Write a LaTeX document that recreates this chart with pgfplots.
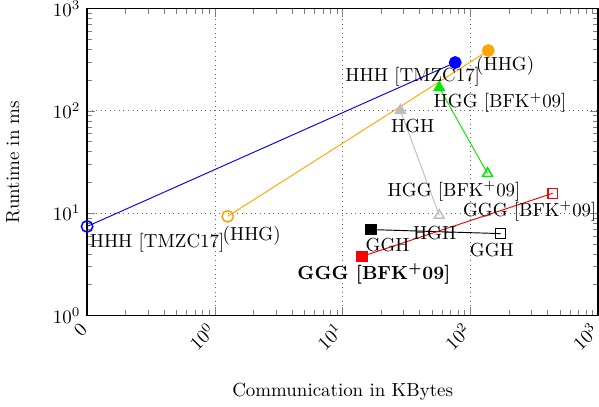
\documentclass[border=0pt]{standalone}
\usepackage{pgfplots}
\pgfplotsset{compat=1.18}
\definecolor{myorange}{RGB}{255,165,0}
\definecolor{mygreen}{RGB}{0,235,0}
\definecolor{mygray}{RGB}{190,190,190}
\begin{document}
\begin{tikzpicture}
\begin{axis}[
  scale only axis,
  width=270pt, height=162pt,
  xmode=log, ymode=log,
  xmin=0.1, xmax=1000, ymin=1, ymax=1000,
  xtick={0.1,1,10,100,1000},
  xticklabels={$0$,$10^0$,$10^1$,$10^2$,$10^3$},
  minor xtick={0.2,0.3,0.4,0.5,0.6,0.7,0.8,0.9,2,3,4,5,6,7,8,9,20,30,40,50,60,70,80,90,200,300,400,500,600,700,800,900},
  ytick={1,10,100,1000},
  yticklabels={$10^0$,$10^1$,$10^2$,$10^3$},
  minor ytick={2,3,4,5,6,7,8,9,20,30,40,50,60,70,80,90,200,300,400,500,600,700,800,900},
  xticklabel style={rotate=45, anchor=east, xshift=-2pt, yshift=-3pt, overlay},
  yticklabel style={inner ysep=0.5pt},
  xmajorgrids, ymajorgrids,
  major grid style={dotted, black!60},
  axis line style={line width=0.8pt},
  xlabel={Communication in KBytes},
  ylabel={Runtime in ms},
  xlabel style={at={(axis description cs:0.5,-0.25)}, anchor=center},
  ylabel style={at={(axis description cs:-0.145,0.5)}, anchor=center},
  clip=false,
]
% blue HHH
\addplot[blue, line width=0.5pt, mark=o, mark size=3pt, mark options={line width=0.8pt}] coordinates {(0.1,7.4) (76,297)};
\addplot[blue, only marks, mark=*, mark size=2.7pt] coordinates {(76,297)};
% orange HHG
\addplot[myorange, line width=0.5pt, mark=o, mark size=3pt, mark options={line width=0.8pt}] coordinates {(1.26,9.3) (138,389)};
\addplot[myorange, only marks, mark=*, mark size=2.7pt] coordinates {(138,389)};
% green HGG
\addplot[mygreen, line width=0.5pt, mark=triangle, mark size=3pt, mark options={line width=0.8pt}] coordinates {(136,24.4) (57,169)};
\addplot[mygreen, only marks, mark=triangle*, mark size=3pt] coordinates {(57,169)};
% gray HGH
\addplot[mygray, line width=0.5pt, mark=triangle, mark size=3pt, mark options={line width=0.8pt}] coordinates {(57,9.5) (28.3,101)};
\addplot[mygray, only marks, mark=triangle*, mark size=3pt] coordinates {(28.3,101)};
% black GGH
\addplot[black, line width=0.5pt, mark=square, mark size=2.6pt, mark options={line width=0.8pt}] coordinates {(172,6.3) (16.7,6.9)};
\addplot[black, only marks, mark=square*, mark size=2.6pt] coordinates {(16.7,6.9)};
% red GGG
\addplot[red, line width=0.5pt, mark=square, mark size=2.6pt, mark options={line width=0.8pt}] coordinates {(440,15.6) (14.2,3.77)};
\addplot[red, only marks, mark=square*, mark size=2.6pt] coordinates {(14.2,3.77)};
% labels
\begin{scope}[every node/.style={inner sep=0pt}]
\node at (axis description cs:0.137,0.235) {HHH [TMZC17]};
\node at (axis description cs:0.637,0.778) {HHH [TMZC17]};
\node at (axis description cs:0.322,0.261) {(HHG)};
\node at (axis description cs:0.818,0.814) {(HHG)};
\node at (axis description cs:0.808,0.693) {HGG [BFK\textsuperscript{+}09]};
\node at (axis description cs:0.718,0.405) {HGG [BFK\textsuperscript{+}09]};
\node at (axis description cs:0.637,0.618) {HGH};
\node at (axis description cs:0.680,0.268) {HGH};
\node at (axis description cs:0.588,0.229) {GGH};
\node at (axis description cs:0.792,0.212) {GGH};
\node at (axis description cs:0.561,0.134) {\textbf{GGG [BFK\textsuperscript{+}09]}};
\node at (axis description cs:0.866,0.340) {GGG [BFK\textsuperscript{+}09]};
\end{scope}
\end{axis}
\end{tikzpicture}
\end{document}
